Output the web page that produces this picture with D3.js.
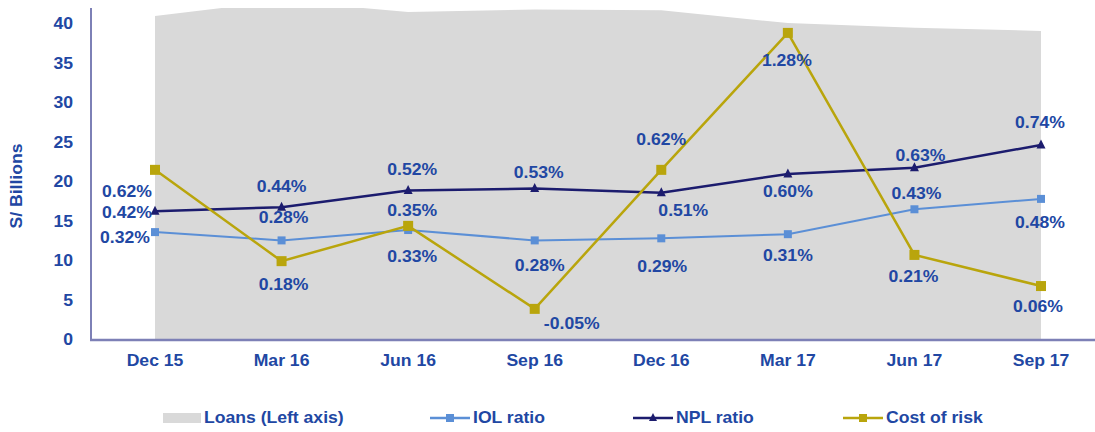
<!DOCTYPE html>
<html>
<head>
<meta charset="utf-8">
<script src="https://cdn.jsdelivr.net/npm/d3@7/dist/d3.min.js"></script>
<style>
  body { margin: 0; background: #fff; }
  svg text { font-family: "Liberation Sans", Arial, sans-serif; font-weight: bold; }
</style>
</head>
<body>
<div id="chart"></div>
<script>
'use strict';

const quarters = ['Dec 15', 'Mar 16', 'Jun 16', 'Sep 16', 'Dec 16', 'Mar 17', 'Jun 17', 'Sep 17'];
const loans = [41.0, 42.9, 41.5, 41.8, 41.7, 40.1, 39.5, 39.1];
const iolRatio = [0.32, 0.28, 0.33, 0.28, 0.29, 0.31, 0.43, 0.48];
const nplRatio = [0.42, 0.44, 0.52, 0.53, 0.51, 0.60, 0.63, 0.74];
const costOfRisk = [0.62, 0.18, 0.35, -0.05, 0.62, 1.28, 0.21, 0.06];
const leftTicks = [0, 5, 10, 15, 20, 25, 30, 35, 40];

const width = 1095;
const height = 432;
const blue = '#2147a3';
const stretch = 1.1;
const fs = 16;

const svg = d3.select('#chart').append('svg')
    .attr('width', width)
    .attr('height', height);

const x = d3.scalePoint().domain(quarters).range([155, 1041]);
const y = d3.scaleLinear().domain([0, 42]).range([340, 8]);
const y2 = d3.scaleLinear().domain([-0.2, 1.4]).range([340, 8]);

// widened bold text, like the source picture
function label(g, tx, ty, str, size, anchor, rot) {
    return g.append('text')
        .attr('transform', `translate(${tx},${ty})` + (rot ? ` rotate(${rot})` : '') + ` scale(${stretch},1)`)
        .attr('text-anchor', anchor || 'middle')
        .attr('dominant-baseline', 'central')
        .attr('font-size', size)
        .attr('fill', blue)
        .text(str);
}

svg.append('defs').append('clipPath').attr('id', 'plot')
    .append('rect').attr('x', 91).attr('y', 8).attr('width', 1004).attr('height', 332);

// loans area
svg.append('path')
    .datum(loans)
    .attr('clip-path', 'url(#plot)')
    .attr('fill', '#d9d9d9')
    .attr('d', d3.area()
        .x((d, i) => x(quarters[i]))
        .y0(y(0))
        .y1(d => y(d)));

// axes
const axisColor = '#7d80b6';
const yAxis = svg.append('g')
    .attr('transform', 'translate(91,0)')
    .call(d3.axisLeft(y).tickValues(leftTicks).tickSize(0).tickPadding(14));
yAxis.select('.domain').remove();
yAxis.selectAll('text').remove();
leftTicks.forEach(t => label(svg, 73, y(t), String(t), fs, 'end'));
svg.append('line').attr('x1', 91).attr('x2', 91).attr('y1', 8).attr('y2', 341)
    .attr('stroke', axisColor).attr('stroke-width', 2);
svg.append('line').attr('x1', 90).attr('x2', width).attr('y1', 340).attr('y2', 340)
    .attr('stroke', axisColor).attr('stroke-width', 2.5);

quarters.forEach(q => label(svg, x(q), 361, q, fs));
label(svg, 17, 186, 'S/ Billions', fs, 'middle', -90);

// series
const series = [
    {name: 'IOL ratio', values: iolRatio, color: '#5b8fd6', width: 2, marker: 'square', size: 8},
    {name: 'NPL ratio', values: nplRatio, color: '#1c1c6e', width: 2.5, marker: 'triangle', size: 9},
    {name: 'Cost of risk', values: costOfRisk, color: '#b9a50c', width: 2.5, marker: 'square', size: 10}
];

const line = d3.line().x((d, i) => x(quarters[i])).y(d => y2(d));

function drawMarker(g, type, cx, cy, size, color) {
    if (type === 'square') {
        g.append('rect')
            .attr('x', cx - size / 2).attr('y', cy - size / 2)
            .attr('width', size).attr('height', size)
            .attr('fill', color);
    } else {
        g.append('path')
            .attr('d', `M${cx - size / 2},${cy + size / 2 - 1}L${cx},${cy - size / 2 - 1}L${cx + size / 2},${cy + size / 2 - 1}Z`)
            .attr('fill', color);
    }
}

series.forEach(s => {
    const g = svg.append('g');
    g.append('path')
        .datum(s.values)
        .attr('fill', 'none')
        .attr('stroke', s.color)
        .attr('stroke-width', s.width)
        .attr('d', line);
    s.values.forEach((v, i) => drawMarker(g, s.marker, x(quarters[i]), y2(v), s.size, s.color));
});

// data labels: [dx, dy] offsets from the point
const iolOffsets = [[-30, 6], [2, -23], [4, 27], [5, 25], [1, 28], [0, 22], [2, -16], [-1, 24]];
const nplOffsets = [[-28, 1], [0, -20], [4, -21], [4, -16], [22, 18], [0, 18], [6, -12], [-1, -22]];
const corOffsets = [[-28, 22], [2, 24], [4, -15], [37, 15], [0, -30], [-1, 28], [-1, 22], [-3, 21]];

const labels = svg.append('g');
[[iolRatio, iolOffsets], [nplRatio, nplOffsets], [costOfRisk, corOffsets]].forEach(([vals, offs]) => {
    vals.forEach((v, i) => {
        label(labels, x(quarters[i]) + offs[i][0], y2(v) + offs[i][1], v.toFixed(2) + '%', fs);
    });
});

// legend
const legend = svg.append('g');
const ly = 418;
legend.append('rect').attr('x', 163).attr('y', ly - 5).attr('width', 38).attr('height', 10).attr('fill', '#d9d9d9');
label(legend, 204, ly, 'Loans (Left axis)', fs, 'start');
const legendItems = [[430, series[0]], [633, series[1]], [843, series[2]]];
legendItems.forEach(([lx, s]) => {
    legend.append('line').attr('x1', lx).attr('x2', lx + 40).attr('y1', ly).attr('y2', ly)
        .attr('stroke', s.color).attr('stroke-width', 2.5);
    drawMarker(legend, s.marker, lx + 20, ly, 8, s.color);
    label(legend, lx + 43, ly, s.name, fs, 'start');
});
</script>
</body>
</html>
